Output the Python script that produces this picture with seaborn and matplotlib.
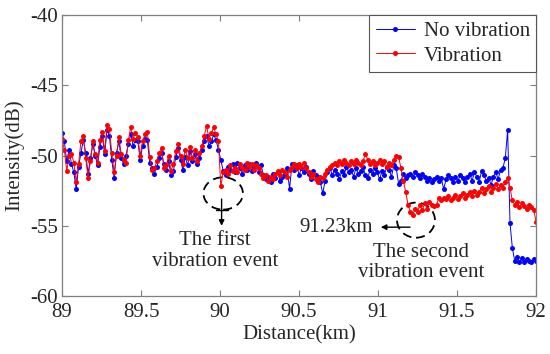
import matplotlib
matplotlib.use('Agg')
import matplotlib.pyplot as plt
from matplotlib.patches import Ellipse
import numpy as np
import seaborn as sns
import pandas as pd

# distance grid (km), one sample every 15 m
distance = np.round(89 + 0.015 * np.arange(201), 3)

no_vib = [
    -48.4, -49.0, -50.4, -49.6, -50.6, -51.2, -52.4, -50.8, -49.8, -48.9,
    -49.8, -51.3, -50.2, -49.2, -50.0, -50.7, -49.4, -48.6, -49.9, -48.2,
    -48.6, -50.3, -51.6, -49.8, -49.0, -50.2, -50.6, -50.0, -49.2, -48.5,
    -49.3, -48.9, -49.0, -50.3, -49.3, -48.8, -48.9, -50.5, -50.9, -51.3,
    -50.8, -50.2, -49.8, -50.6, -51.0, -50.4, -51.4, -51.1, -50.1, -49.5,
    -50.3, -51.0, -50.1, -50.7, -49.7, -50.4, -49.9, -50.6, -50.2, -49.6,
    -49.0, -48.6, -49.3, -49.0, -48.5, -48.9, -49.6, -50.3, -51.1, -51.4,
    -50.8, -51.0, -50.6, -51.2, -50.5, -50.9, -51.3, -50.7, -51.0, -50.6,
    -51.1, -50.8, -50.5, -51.2, -50.7, -51.4, -51.7, -51.5, -51.9, -51.3,
    -51.6, -51.2, -51.8, -51.5, -51.3, -50.9, -52.4, -50.6, -51.0, -50.7,
    -51.4, -50.9, -51.2, -50.8, -51.3, -51.7, -51.1, -51.4, -51.5, -51.9,
    -52.7, -51.8, -51.2, -50.9, -51.4, -51.0, -51.3, -51.7, -51.1, -51.4,
    -50.8, -51.2, -51.0, -51.5, -50.9, -51.3, -51.1, -50.8, -51.4, -51.6,
    -51.0, -51.3, -50.9, -51.2, -51.7, -51.1, -51.4, -50.8, -51.0, -51.5,
    -50.7, -50.9, -52.0, -51.8, -51.3, -51.6, -51.4, -51.3, -51.5, -51.2,
    -51.4, -51.6, -51.3, -51.5, -51.8, -51.6, -51.9, -51.7, -51.5, -51.8,
    -51.6, -52.4, -51.7, -51.4, -51.6, -51.9, -51.5, -51.8, -51.4, -51.6,
    -51.9, -51.5, -51.3, -51.8, -51.2, -51.5, -51.9, -51.1, -51.4, -51.8,
    -51.6, -52.1, -51.5, -51.2, -51.7, -51.0, -50.9, -50.2, -48.2, -54.8,
    -56.6, -57.5, -57.2, -57.6, -57.3, -57.6, -57.4, -57.5, -57.6, -57.4,
    -57.5,
]

vib = [
    -48.8, -49.6, -51.1, -50.0, -49.9, -50.5, -51.9, -50.6, -49.0, -48.6,
    -50.2, -51.6, -50.4, -49.0, -49.9, -50.5, -48.9, -48.3, -49.7, -47.8,
    -48.1, -49.8, -51.2, -50.0, -48.7, -49.9, -50.3, -50.5, -48.9, -48.0,
    -48.8, -48.4, -48.7, -50.0, -49.0, -48.5, -48.3, -50.1, -51.0, -50.9,
    -50.4, -49.8, -49.5, -50.9, -50.7, -50.0, -51.1, -50.6, -49.7, -49.2,
    -50.0, -50.6, -49.6, -50.2, -49.4, -50.2, -49.6, -50.4, -49.8, -49.3,
    -48.6, -47.9, -48.8, -48.4, -48.0, -48.5, -49.0, -52.2, -51.2, -51.0,
    -51.3, -50.7, -51.1, -50.9, -51.2, -50.6, -50.9, -51.0, -50.5, -50.8,
    -50.6, -51.0, -50.7, -50.9, -51.3, -51.6, -51.4, -51.8, -51.5, -51.7,
    -51.3, -51.1, -51.4, -51.0, -51.2, -51.5, -51.0, -50.8, -50.6, -50.9,
    -50.6, -50.8, -50.5, -50.9, -51.2, -51.5, -51.3, -51.7, -51.9, -51.5,
    -51.6, -51.3, -51.0, -50.8, -50.7, -50.5, -50.7, -50.4, -50.6, -50.3,
    -50.5, -50.7, -50.4, -50.6, -50.3, -50.5, -50.7, -50.4, -49.9, -50.3,
    -50.6, -50.4, -50.7, -50.5, -50.3, -50.6, -50.4, -50.8, -50.5, -50.7,
    -50.3, -50.0, -50.1, -50.9, -51.8, -52.6, -53.5, -54.0, -54.2, -53.8,
    -54.0, -53.5, -53.9, -53.4, -53.8, -53.3, -53.5, -53.6, -53.5, -53.0,
    -53.2, -53.0, -53.1, -52.9, -53.2, -53.0, -52.8, -53.1, -52.9, -52.7,
    -53.0, -52.8, -52.6, -52.9, -52.5, -52.8, -52.6, -52.3, -52.7, -52.4,
    -52.2, -52.6, -52.3, -52.0, -52.4, -52.1, -52.3, -51.9, -51.6, -52.3,
    -53.2, -53.5, -53.3, -53.7, -53.4, -53.6, -53.8, -53.5, -53.7, -53.9,
    -54.7,
]

x_ticks = [89, 89.5, 90, 90.5, 91, 91.5, 92]
x_ticklabels = ['89', '89.5', '90', '90.5', '91', '91.5', '92']
y_ticks = [-60, -55, -50, -45, -40]

sns.set_style('ticks')
plt.rcParams['font.family'] = ['Liberation Serif', 'DejaVu Serif']
plt.rcParams['font.size'] = 15

df = pd.DataFrame({'distance': distance, 'no_vib': no_vib, 'vib': vib})

fig = plt.figure(figsize=(5.5, 3.54), dpi=100)
ax = fig.add_axes([0.1127, 0.1638, 0.862, 0.7938])

sns.lineplot(data=df, x='distance', y='no_vib', ax=ax, color='#0000FF',
             marker='o', markersize=3.6, markeredgewidth=0, linewidth=0.7,
             label='No vibration')
sns.lineplot(data=df, x='distance', y='vib', ax=ax, color='#FF0000',
             marker='o', markersize=3.6, markeredgewidth=0, linewidth=0.7,
             label='Vibration')

ax.set_xlim(89, 92)
ax.set_ylim(-60, -40)
ax.set_xticks(x_ticks)
ax.set_xticklabels(x_ticklabels)
ax.set_yticks(y_ticks)
ax.set_yticklabels([str(v) for v in y_ticks])
ax.tick_params(direction='in', top=True, right=True, length=4, width=0.8,
               color='#7f7f7f', labelsize=15)
ax.tick_params(axis='x', pad=5)
ax.tick_params(axis='y', pad=3)
for s in ax.spines.values():
    s.set_color('#7f7f7f')
    s.set_linewidth(0.9)
ax.set_xlabel('Distance(km)', fontsize=15, labelpad=2)
ax.set_ylabel('Intensity(dB)', fontsize=15, labelpad=4)

leg = ax.legend(loc='upper right', fancybox=False, framealpha=1,
                edgecolor='#555555', fontsize=15, handlelength=1.9,
                handletextpad=0.4, borderpad=0.3, labelspacing=0.25,
                borderaxespad=0.0)
leg.get_frame().set_linewidth(0.8)

# first event
ax.add_patch(Ellipse((90.02, -52.7), 0.25, 2.3, fill=False, color='black',
                     lw=1.3, linestyle=(0, (5, 3))))
ax.annotate('', xy=(90.01, -55.2), xytext=(90.01, -52.9),
            arrowprops=dict(arrowstyle='-|>', color='black', lw=1.0,
                            mutation_scale=8))
ax.plot([89.975, 90.05], [-53.9, -53.9], color='black', lw=1.0)
ax.text(89.97, -56.8, 'The first\nvibration event', ha='center', va='center',
        fontsize=15, linespacing=1.1)

# second event
ax.add_patch(Ellipse((91.24, -54.6), 0.24, 2.5, fill=False, color='black',
                     lw=1.3, linestyle=(0, (5, 3))))
ax.annotate('', xy=(91.0, -55.1), xytext=(91.22, -55.1),
            arrowprops=dict(arrowstyle='-|>', color='black', lw=1.0,
                            mutation_scale=8))
ax.text(90.97, -55.1, '91.23km', ha='right', va='center', fontsize=15)
ax.text(91.27, -57.6, 'The second\nvibration event', ha='center', va='center',
        fontsize=15, linespacing=1.1)

plt.savefig('out.png', dpi=100)
